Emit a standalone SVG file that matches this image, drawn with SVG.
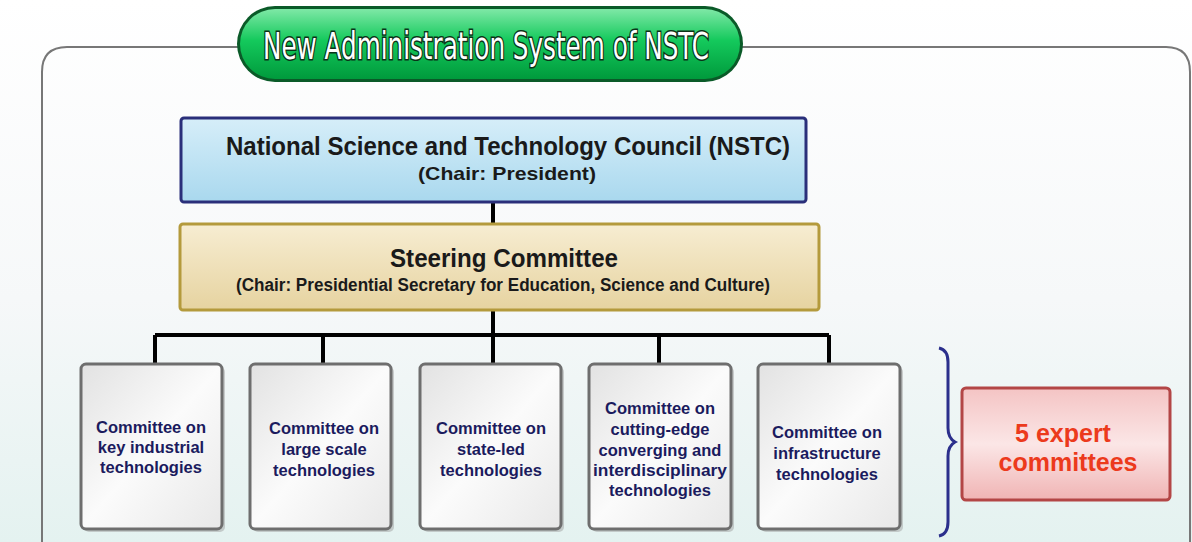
<svg xmlns="http://www.w3.org/2000/svg" width="1192" height="542" viewBox="0 0 1192 542">
<defs>
<linearGradient id="bg" x1="0" y1="0" x2="0" y2="1">
<stop offset="0" stop-color="#ffffff"/>
<stop offset="0.55" stop-color="#f6f8f9"/>
<stop offset="1" stop-color="#e4f2f0"/>
</linearGradient>
<linearGradient id="pill" x1="0" y1="0" x2="0" y2="1">
<stop offset="0" stop-color="#7ee8a6"/>
<stop offset="0.45" stop-color="#14c95c"/>
<stop offset="1" stop-color="#009a3c"/>
</linearGradient>
<linearGradient id="blue" x1="0" y1="0" x2="0" y2="1">
<stop offset="0" stop-color="#d6eef9"/>
<stop offset="1" stop-color="#a9d8ee"/>
</linearGradient>
<linearGradient id="tan" x1="0" y1="0" x2="0" y2="1">
<stop offset="0" stop-color="#f7edd2"/>
<stop offset="1" stop-color="#e6d3a0"/>
</linearGradient>
<linearGradient id="grey" x1="0" y1="0" x2="1" y2="1">
<stop offset="0" stop-color="#e2e2e2"/>
<stop offset="0.5" stop-color="#fbfbfb"/>
<stop offset="1" stop-color="#e8e8e8"/>
</linearGradient>
<linearGradient id="pink" x1="0" y1="0" x2="0" y2="1">
<stop offset="0" stop-color="#f4c4c4"/>
<stop offset="0.5" stop-color="#fbe6e6"/>
<stop offset="1" stop-color="#f0b4b4"/>
</linearGradient>
<style>
.com{fill:url(#grey);stroke:#6e6e6e;stroke-width:3}
.sh{fill:#9a9a9a;opacity:0.45}
.ct{font-family:"Liberation Sans",Arial,sans-serif;font-weight:bold;font-size:16.5px;fill:#1b1b5e;text-anchor:middle}
.hd{font-family:"Liberation Sans",Arial,sans-serif;font-weight:bold;fill:#1a1a1a;text-anchor:middle}
.ln{stroke:#000;stroke-width:4;fill:none}
.ex{font-family:"Liberation Sans",Arial,sans-serif;font-weight:bold;font-size:25px;fill:#ec3a1c;text-anchor:middle}
</style>
</defs>
<rect x="0" y="0" width="1192" height="542" fill="url(#bg)"/>
<path d="M42 560 V72 Q42 47 67 47 H1166 Q1190 47 1190 72 V560" fill="none" stroke="#777" stroke-width="2"/>
<g id="title">
<rect x="237" y="6" width="506" height="76" rx="38" fill="#0a5a28"/>
<rect x="240" y="9" width="500" height="70" rx="35" fill="url(#pill)"/>
<text x="486" y="59" font-family="'Liberation Sans Narrow','DejaVu Sans Condensed',Arial,sans-serif" font-size="37" fill="#fff" stroke="#0b3318" stroke-width="3" paint-order="stroke" text-anchor="middle" textLength="446" lengthAdjust="spacingAndGlyphs">New Administration System of NSTC</text>
</g>
<g id="connectors">
<path class="ln" d="M493 202 V225"/>
<path class="ln" d="M493 310 V335"/>
<path class="ln" d="M155 335 H829"/>
<path class="ln" d="M155 335 V363 M323 335 V363 M493 335 V363 M659 335 V363 M829 335 V363"/>
</g>
<g id="nstc">
<rect x="181" y="118" width="625" height="84" rx="3" fill="url(#blue)" stroke="#2a2f7a" stroke-width="3"/>
<text class="hd" x="508" y="155" font-size="25" textLength="564" lengthAdjust="spacingAndGlyphs">National Science and Technology Council (NSTC)</text>
<text class="hd" x="507" y="180" font-size="19" textLength="178" lengthAdjust="spacingAndGlyphs">(Chair: President)</text>
</g>
<g id="steering">
<rect x="180" y="224" width="639" height="86" rx="3" fill="url(#tan)" stroke="#b49a3c" stroke-width="3"/>
<text class="hd" x="504" y="267" font-size="25" textLength="228" lengthAdjust="spacingAndGlyphs">Steering Committee</text>
<text class="hd" x="503" y="291" font-size="18" textLength="534" lengthAdjust="spacingAndGlyphs">(Chair: Presidential Secretary for Education, Science and Culture)</text>
</g>
<g id="c1">
<rect class="sh" x="84" y="367" width="141" height="165" rx="5"/>
<rect class="com" x="81" y="364" width="141" height="165" rx="5"/>
<text class="ct" x="151" y="433">Committee on</text>
<text class="ct" x="151" y="453">key industrial</text>
<text class="ct" x="151" y="473">technologies</text>
</g>
<g id="c2">
<rect class="sh" x="253" y="367" width="141" height="165" rx="5"/>
<rect class="com" x="250" y="364" width="141" height="165" rx="5"/>
<text class="ct" x="324" y="434">Committee on</text>
<text class="ct" x="324" y="455">large scale</text>
<text class="ct" x="324" y="476">technologies</text>
</g>
<g id="c3">
<rect class="sh" x="423" y="367" width="141" height="165" rx="5"/>
<rect class="com" x="420" y="364" width="141" height="165" rx="5"/>
<text class="ct" x="491" y="434">Committee on</text>
<text class="ct" x="491" y="455">state-led</text>
<text class="ct" x="491" y="476">technologies</text>
</g>
<g id="c4">
<rect class="sh" x="592" y="367" width="142" height="165" rx="5"/>
<rect class="com" x="589" y="364" width="142" height="165" rx="5"/>
<text class="ct" x="660" y="414">Committee on</text>
<text class="ct" x="660" y="435">cutting-edge</text>
<text class="ct" x="660" y="456">converging and</text>
<text class="ct" x="660" y="476" textLength="134" lengthAdjust="spacingAndGlyphs">interdisciplinary</text>
<text class="ct" x="660" y="496">technologies</text>
</g>
<g id="c5">
<rect class="sh" x="761" y="367" width="142" height="165" rx="5"/>
<rect class="com" x="758" y="364" width="142" height="165" rx="5"/>
<text class="ct" x="827" y="438">Committee on</text>
<text class="ct" x="827" y="459">infrastructure</text>
<text class="ct" x="827" y="480">technologies</text>
</g>
<g id="brace">
<path d="M939 348 Q948 350 948 362 V428 Q948 438 955 442 Q948 446 948 456 V522 Q948 534 939 536" fill="none" stroke="#2b2f8c" stroke-width="3"/>
</g>
<g id="expert">
<rect x="962" y="388" width="208" height="112" rx="4" fill="url(#pink)" stroke="#b34646" stroke-width="3"/>
<text class="ex" x="1063" y="442">5 expert</text>
<text class="ex" x="1068" y="471">committees</text>
</g>
</svg>
